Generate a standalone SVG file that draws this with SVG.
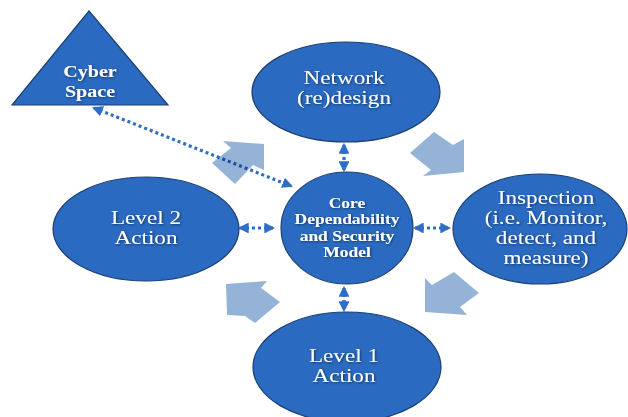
<svg xmlns="http://www.w3.org/2000/svg" width="628" height="417" viewBox="0 0 628 417">
<style>
.node{fill:#2A6AC0;stroke:#1C3F73;stroke-width:1.2}
.lbl{font-family:"Liberation Serif","Times New Roman",serif;fill:#FFFFFF;text-anchor:middle;filter:url(#ts)}
.reg{font-size:19px}
.core{font-size:14px;font-weight:bold}
.cyber{font-size:17px;font-weight:bold}
.dot{fill:none;stroke:#2E6EC4;stroke-width:3.2;stroke-dasharray:3 3;marker-start:url(#ah);marker-end:url(#ah)}
.cyc{fill:#95B3D7;mix-blend-mode:multiply}
</style>
<defs>
<filter id="ts" x="-20%" y="-20%" width="140%" height="140%">
<feDropShadow dx="0.8" dy="0.8" stdDeviation="0.9" flood-color="#0A2240" flood-opacity="0.75"/>
</filter>
<marker id="ah" viewBox="0 0 10 10" refX="8" refY="5" markerWidth="3.4" markerHeight="3.4" orient="auto-start-reverse" markerUnits="strokeWidth">
<path d="M0,0 L10,5 L0,10 Z" fill="#2E6EC4"/>
</marker>
</defs>
<g id="connectors">
<line class="dot" x1="94" y1="108" x2="291" y2="186"/>
<line class="dot" x1="344" y1="145" x2="344" y2="170"/>
<line class="dot" x1="240" y1="228" x2="273" y2="228"/>
<line class="dot" x1="415" y1="228" x2="449" y2="228"/>
<line class="dot" x1="344" y1="288" x2="344" y2="310"/>
</g>
<g id="cycle-arrows">
<polygon class="cyc" points="264,144 223,141 231,148 212,163 235,184 253,165 264,170"/>
<polygon class="cyc" points="464,172 464,139 453,145 434,132 410,153 431,170 423,176"/>
<polygon class="cyc" points="425,312 425,278 432,285 454,272 479,293 460,307 467,315"/>
<polygon class="cyc" points="226,284 267,281 261,288 280,302 255,323 245,316 227,315"/>
</g>
<g id="cyber-space">
<polygon class="node" points="89,11 168,105 12,105"/>
<text class="lbl cyber" transform="matrix(1.18,0,0,1,90,0)"><tspan x="0" y="77">Cyber</tspan><tspan x="0" y="97">Space</tspan></text>
</g>
<g id="network-redesign">
<ellipse class="node" cx="346" cy="92" rx="94" ry="50"/>
<text class="lbl reg" transform="matrix(1.22,0,0,1,344,0)"><tspan x="0" y="84">Network</tspan><tspan x="0" y="104">(re)design</tspan></text>
</g>
<g id="level2-action">
<ellipse class="node" cx="146" cy="229" rx="93" ry="52"/>
<text class="lbl reg" transform="matrix(1.22,0,0,1,146,0)"><tspan x="0" y="224">Level 2</tspan><tspan x="0" y="244">Action</tspan></text>
</g>
<g id="core-model">
<ellipse class="node" cx="347" cy="228" rx="66" ry="56"/>
<text class="lbl core" transform="matrix(1.25,0,0,1,347,0)"><tspan x="0" y="208">Core</tspan><tspan x="0" y="224">Dependability</tspan><tspan x="0" y="241">and Security</tspan><tspan x="0" y="257">Model</tspan></text>
</g>
<g id="inspection">
<ellipse class="node" cx="540" cy="229" rx="87" ry="55"/>
<text class="lbl reg" transform="matrix(1.22,0,0,1,546,0)"><tspan x="0" y="204">Inspection</tspan><tspan x="0" y="224">(i.e. Monitor,</tspan><tspan x="0" y="244">detect, and</tspan><tspan x="0" y="264">measure)</tspan></text>
</g>
<g id="level1-action">
<ellipse class="node" cx="347" cy="367" rx="94" ry="55"/>
<text class="lbl reg" transform="matrix(1.22,0,0,1,344,0)"><tspan x="0" y="362">Level 1</tspan><tspan x="0" y="382">Action</tspan></text>
</g>
</svg>
